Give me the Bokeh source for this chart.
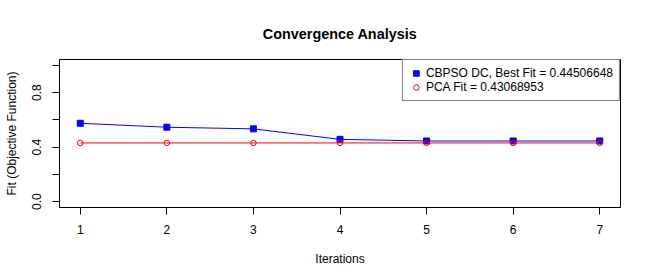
from bokeh.plotting import figure
from bokeh.models import FixedTicker, Legend, LegendItem, Range1d
from bokeh.embed import file_html
from bokeh.resources import INLINE

# ---- data ----
iterations = [1, 2, 3, 4, 5, 6, 7]
cbpso_fit = [0.575, 0.546, 0.534, 0.457, 0.445, 0.445, 0.445]
pca_fit = [0.4307, 0.4307, 0.4307, 0.4307, 0.4307, 0.4307, 0.4307]
x_ticks = [1, 2, 3, 4, 5, 6, 7]
y_ticks = [0.0, 0.2, 0.4, 0.6, 0.8, 1.0]
y_tick_labels = ["0.0", "", "0.4", "", "0.8", ""]
legend_labels = ["CBPSO DC, Best Fit = 0.44506648", "PCA Fit = 0.43068953"]

FONT = "Liberation Sans"

p = figure(frame_width=561, frame_height=148, output_backend="svg", toolbar_location=None,
           x_range=Range1d(0.76, 7.24), y_range=Range1d(-0.0432, 1.0432),
           min_border_left=59, min_border_right=14, min_border_top=59, min_border_bottom=10,
           title="Convergence Analysis")

p.title.align = "center"
p.title.vertical_align = "middle"
p.title.text_font = FONT
p.title.text_font_size = "14.4px"
p.title.text_font_style = "bold"
p.title.text_color = "black"
p.title.standoff = 33

p.grid.visible = False
p.outline_line_color = "black"
p.outline_line_width = 1
p.outline_line_alpha = 1
p.background_fill_color = "white"
p.border_fill_color = "white"

for ax in (p.xaxis[0], p.yaxis[0]):
    ax.axis_line_color = "black"
    ax.major_tick_line_color = "black"
    ax.major_tick_out = 7
    ax.major_tick_in = 0
    ax.minor_tick_line_color = None
    ax.major_label_text_font = FONT
    ax.major_label_text_font_size = "12px"
    ax.major_label_text_color = "black"
    ax.axis_label_text_font = FONT
    ax.axis_label_text_font_size = "12px"
    ax.axis_label_text_font_style = "normal"
    ax.axis_label_text_color = "black"

p.xaxis.ticker = FixedTicker(ticks=x_ticks)
p.xaxis.major_label_overrides = {t: str(t) for t in x_ticks}
p.xaxis.axis_label = "Iterations"
p.xaxis.major_label_standoff = 10
p.xaxis.axis_label_standoff = 15

p.yaxis.ticker = FixedTicker(ticks=y_ticks)
p.yaxis.major_label_overrides = {t: lab for t, lab in zip(y_ticks, y_tick_labels)}
p.yaxis.major_label_orientation = "parallel"
p.yaxis.major_label_standoff = 11
p.yaxis.axis_label = "Fit (Objective Function)"
p.yaxis.axis_label_standoff = 11

# ---- series ----
p.line(iterations, cbpso_fit, line_color="#0000FF", line_width=1)
r_blue = p.scatter(iterations, cbpso_fit, marker="square", size=6,
                   fill_color="#0000FF", line_color="#0000FF")
p.line(iterations, pca_fit, line_color="#FF0000", line_width=1)
r_red = p.scatter(iterations, pca_fit, marker="circle", size=5.5,
                  fill_color=None, line_color="#FF0000", line_width=1)

legend = Legend(items=[LegendItem(label=legend_labels[0], renderers=[r_blue]),
                       LegendItem(label=legend_labels[1], renderers=[r_red])],
                location="top_right", margin=0, padding=6, spacing=0,
                glyph_width=14, glyph_height=14, label_height=14, label_standoff=3,
                label_text_font=FONT, label_text_font_size="12px", label_text_color="black",
                border_line_color="black", border_line_width=1,
                background_fill_color="white", background_fill_alpha=1)
p.add_layout(legend, "center")

open("out.html", "w").write(file_html(p, INLINE))
